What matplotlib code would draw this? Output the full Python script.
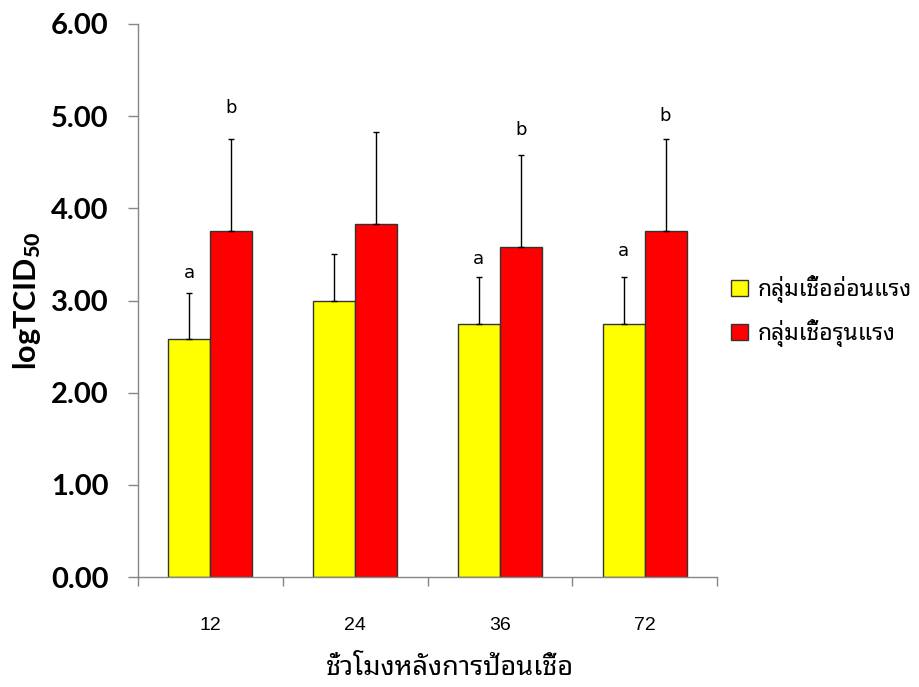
import matplotlib
matplotlib.use('Agg')
import matplotlib.pyplot as plt
from matplotlib.patches import Patch
import numpy as np

# ---- data ----
categories = ['12', '24', '36', '72']
mild_values = [2.58, 3.00, 2.75, 2.75]
mild_err = [0.50, 0.50, 0.50, 0.50]
severe_values = [3.75, 3.83, 3.58, 3.75]
severe_err = [1.00, 1.00, 1.00, 1.00]
mild_letters = ['a', '', 'a', 'a']
mild_letter_y = [3.30, None, 3.45, 3.54]
severe_letters = ['b', '', 'b', 'b']
severe_letter_y = [5.09, None, 4.85, 5.00]
yticks = [0, 1, 2, 3, 4, 5, 6]
legend_labels = ['กลุ่มเชื้ออ่อนแรง', 'กลุ่มเชื้อรุนแรง']
xlabel = 'ชั่วโมงหลังการป้อนเชื้อ'
ylabel = 'logTCID$_{50}$'

plt.rcParams['mathtext.fontset'] = 'custom'
plt.rcParams['mathtext.bf'] = 'Lato:black'
plt.rcParams['mathtext.rm'] = 'Lato:black'
plt.rcParams['mathtext.default'] = 'bf'

THAI = ['Noto Sans Thai Looped', 'DejaVu Sans']
YELLOW = '#FFFF00'
RED = '#FF0000'
GRAY = '#868686'

W, H = 919, 687
fig = plt.figure(figsize=(W / 100, H / 100), dpi=100)
ax = fig.add_axes([138 / W, 1 - 577 / H, (717 - 138) / W, (577 - 24) / H])

x = np.arange(len(categories))
w = 0.29
ekw = dict(ecolor='black', elinewidth=1, capsize=2.5, capthick=1)
ax.bar(x - w / 2, mild_values, w, yerr=[np.zeros(4), mild_err], color=YELLOW,
       edgecolor='#333333', linewidth=1, error_kw=ekw, zorder=2)
ax.bar(x + w / 2, severe_values, w, yerr=[np.zeros(4), severe_err], color=RED,
       edgecolor='#333333', linewidth=1, error_kw=ekw, zorder=2)

for i in range(len(categories)):
    if mild_letters[i]:
        ax.text(x[i] - w / 2, mild_letter_y[i], mild_letters[i], ha='center', va='center',
                fontsize=13, family='DejaVu Sans')
    if severe_letters[i]:
        ax.text(x[i] + w / 2, severe_letter_y[i], severe_letters[i], ha='center', va='center',
                fontsize=13, family='DejaVu Sans')

ax.set_xlim(-0.5, len(categories) - 0.5)
ax.set_ylim(0, 6)
ax.set_yticks(yticks)
ax.set_yticklabels([f'{v:.2f}' for v in yticks], fontsize=21, fontweight='bold', family='Lato')
ax.tick_params(axis='y', direction='out', length=7.2, width=1, color=GRAY, pad=14)

ax.set_xticks(x)
ax.set_xticklabels(categories, fontsize=14, family='Liberation Sans')
ax.set_xticks(np.arange(-0.5, len(categories)), minor=True)
ax.tick_params(axis='x', which='major', length=0, pad=29)
ax.tick_params(axis='x', which='minor', direction='out', length=6.5, width=1, color=GRAY)

for s in ['top', 'right']:
    ax.spines[s].set_visible(False)
for s in ['left', 'bottom']:
    ax.spines[s].set_color(GRAY)
    ax.spines[s].set_linewidth(1)

ax.set_ylabel(ylabel, fontsize=22, fontweight='bold', family='Lato', labelpad=6)
fig.text(450 / W, 1 - 668 / H, xlabel, ha='center', va='center', fontsize=19.5,
         family=THAI, fontweight='semibold')

handles = [Patch(facecolor=YELLOW, edgecolor='#333333', linewidth=1),
           Patch(facecolor=RED, edgecolor='#333333', linewidth=1)]
leg = fig.legend(handles, legend_labels, loc='center left', bbox_to_anchor=(731 / W, 1 - 311 / H),
                 frameon=False, prop=dict(family=THAI, weight='bold', size=16.5),
                 handlelength=0.75, handleheight=0.75, handletextpad=0.4, labelspacing=0.7,
                 borderaxespad=0, borderpad=0)

fig.savefig('out.png', dpi=100)
